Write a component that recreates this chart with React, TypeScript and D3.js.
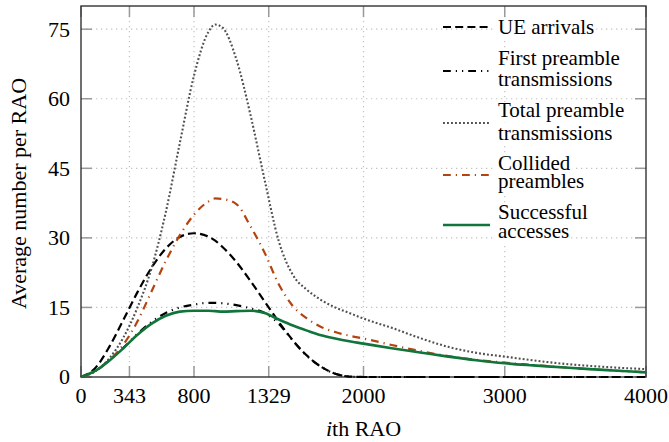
import React from 'react';
import * as d3 from 'd3';

// x positions (ith RAO) at which values were read
const xs = [0, 100, 200, 300, 400, 500, 600, 700, 800, 900, 950, 1000, 1100, 1200, 1300, 1400, 1500, 1600, 1700, 1800, 1900, 2000, 2200, 2400, 2600, 2800, 3000, 3200, 3400, 3600, 3800, 4000];

const ueArrivals = [0, 1.9, 6.5, 12.3, 18.3, 23.6, 27.7, 30.2, 31.0, 30.3, 29.4, 28.1, 24.8, 20.7, 16.3, 11.9, 7.9, 4.6, 2.2, 0.7, 0.1, 0, 0, 0, 0, 0, 0, 0, 0, 0, 0, 0];
const firstPreamble = [0, 1.3, 3.6, 6.3, 9.3, 11.9, 13.8, 15.0, 15.6, 16.0, 16.0, 15.9, 15.5, 14.8, 13.8, 11.5, 7.8, 4.5, 2.2, 0.7, 0.1, 0, 0, 0, 0, 0, 0, 0, 0, 0, 0, 0];
const totalPreamble = [0, 1.2, 4.0, 8.5, 15.0, 23.5, 35.5, 50.5, 65.0, 74.3, 76.0, 75.4, 68.5, 56.5, 42.5, 29.3, 22.0, 18.8, 16.6, 15.0, 13.8, 12.6, 10.6, 8.4, 6.5, 5.2, 4.4, 3.6, 2.9, 2.4, 2.0, 1.7];
const collided = [0, 1.2, 3.6, 7.0, 12.0, 18.5, 25.0, 30.6, 35.0, 37.8, 38.5, 38.4, 37.3, 32.5, 26.8, 20.0, 15.3, 12.6, 10.8, 9.7, 8.9, 8.3, 6.9, 5.6, 4.5, 3.7, 3.1, 2.6, 2.1, 1.7, 1.35, 1.0];
const successful = [0, 1.3, 3.5, 6.2, 9.1, 11.5, 13.2, 14.1, 14.3, 14.3, 14.2, 14.1, 14.2, 14.3, 13.8, 12.4, 11.1, 10.0, 9.0, 8.3, 7.7, 7.2, 6.2, 5.3, 4.4, 3.6, 2.95, 2.5, 2.1, 1.7, 1.35, 1.0];

const xTicks = [0, 343, 800, 1329, 2000, 3000, 4000];
const yTicks = [0, 15, 30, 45, 60, 75];

const legendLabels = [
  ['UE arrivals'],
  ['First preamble', 'transmissions'],
  ['Total preamble', 'transmissions'],
  ['Collided', 'preambles'],
  ['Successful', 'accesses'],
];

const seriesValues = [ueArrivals, firstPreamble, totalPreamble, collided, successful];
const seriesStyles = [
  { color: '#000000', dash: '8 4.2', width: 2.2 },
  { color: '#000000', dash: '7.8 5 1.2 5 1.2 5', width: 2.2 },
  { color: '#505050', dash: '1.9 2.1', width: 2.1 },
  { color: '#b4440f', dash: '7.8 5 1.2 5', width: 2.2 },
  { color: '#11743a', dash: undefined as string | undefined, width: 2.6 },
];

// legend layout: sample y and text baselines for each entry
const legendSampleY = [27, 71, 123, 175, 225];
const legendBaselines = [[34], [64.5, 85.5], [117, 139.5], [169.5, 188], [219, 238]];

const FONT = 'Liberation Serif';
const CSS = `svg text, svg tspan { font-family: 'Liberation Serif', 'Times New Roman', Tinos, serif; }`;

let measureCtx: CanvasRenderingContext2D | null = null;
function textWidth(s: string, size: number): number {
  if (!measureCtx) measureCtx = document.createElement('canvas').getContext('2d');
  if (!measureCtx) return s.length * size * 0.45;
  measureCtx.font = `${size}px "Liberation Serif"`;
  return measureCtx.measureText(s).width;
}

export default function App() {
  const x = d3.scaleLinear().domain([0, 4000]).range([81, 646]);
  const y = d3.scaleLinear().domain([0, 80]).range([377, 6]);
  const [xL, xR] = x.range();
  const [yB, yT] = y.range();
  const L = 11;

  const line = d3.line<number>()
    .x((_, i) => x(xs[i]))
    .y((d) => y(d))
    .curve(d3.curveMonotoneX);

  const textX = 498;
  const legFont = 21;

  return (
    <svg width={669} height={442} style={{ position: 'absolute', left: 0, top: 0 }} fontFamily={FONT}>
      <style>{CSS}</style>
      <rect width={669} height={442} fill="#fff" />

      {/* grid */}
      <g stroke="#c2c2c2" strokeWidth={1.2} strokeDasharray="1.3 3.7">
        {xTicks.filter((t) => t > 0 && t < 4000).map((t) => (
          <line key={'gx' + t} x1={x(t)} x2={x(t)} y1={yT} y2={yB} />
        ))}
        {yTicks.filter((t) => t > 0).map((t) => (
          <line key={'gy' + t} x1={xL} x2={xR} y1={y(t)} y2={y(t)} />
        ))}
      </g>

      {/* ticks */}
      <g stroke="#9a9a9a" strokeWidth={1.5}>
        {xTicks.map((t) => (
          <g key={'tx' + t}>
            <line x1={x(t)} x2={x(t)} y1={yB} y2={yB - L} />
            <line x1={x(t)} x2={x(t)} y1={yT} y2={yT + L} />
          </g>
        ))}
        {yTicks.map((t) => (
          <g key={'ty' + t}>
            <line x1={xL} x2={xL + L} y1={y(t)} y2={y(t)} />
            <line x1={xR} x2={xR - L} y1={y(t)} y2={y(t)} />
          </g>
        ))}
      </g>

      {/* frame */}
      <rect x={xL} y={yT} width={xR - xL} height={yB - yT} fill="none" stroke="#333" strokeWidth={1.4} />

      {/* tick labels */}
      {xTicks.map((t) => (
        <text key={'lx' + t} x={x(t)} y={402.5} textAnchor="middle" fontSize={22} style={{ fontFamily: FONT }}>
          {String(t)}
        </text>
      ))}
      {yTicks.map((t) => (
        <text key={'ly' + t} x={70} y={y(t) + 7.4} textAnchor="end" fontSize={22} style={{ fontFamily: FONT }}>
          {String(t)}
        </text>
      ))}

      {/* axis labels */}
      <text x={(xL + xR) / 2} y={436} textAnchor="middle" fontSize={22} style={{ fontFamily: FONT }}>
        <tspan fontStyle="italic">i</tspan>th RAO
      </text>
      <text
        transform={`translate(26,${(yT + yB) / 2 + 2}) rotate(-90)`}
        textAnchor="middle"
        fontSize={22}
        style={{ fontFamily: FONT }}
      >
        Average number per RAO
      </text>

      {/* curves */}
      {seriesValues.map((vals, i) => {
        const s = seriesStyles[i];
        return (
          <path
            key={'c' + i}
            d={line(vals) || ''}
            fill="none"
            stroke={s.color}
            strokeWidth={s.width}
            strokeLinejoin="round"
            strokeDasharray={s.dash}
          />
        );
      })}

      {/* legend backgrounds */}
      {legendLabels.map((lines, i) =>
        lines.map((ln, j) => {
          const bl = legendBaselines[i][j];
          return (
            <rect
              key={'lb' + i + '-' + j}
              x={textX - 2}
              y={bl - 15}
              width={textWidth(ln, legFont) + 4}
              height={20}
              fill="#fff"
            />
          );
        })
      )}

      {/* legend samples and text */}
      {legendLabels.map((lines, i) => {
        const s = seriesStyles[i];
        const sy = legendSampleY[i];
        return (
          <g key={'lg' + i}>
            <line
              x1={443}
              x2={490}
              y1={sy}
              y2={sy}
              stroke={s.color}
              strokeWidth={s.width}
              strokeDasharray={s.dash}
            />
            {lines.map((ln, j) => (
              <text
                key={'lt' + j}
                x={textX}
                y={legendBaselines[i][j]}
                fontSize={legFont}
                style={{ fontFamily: FONT }}
              >
                {ln}
              </text>
            ))}
          </g>
        );
      })}
    </svg>
  );
}
